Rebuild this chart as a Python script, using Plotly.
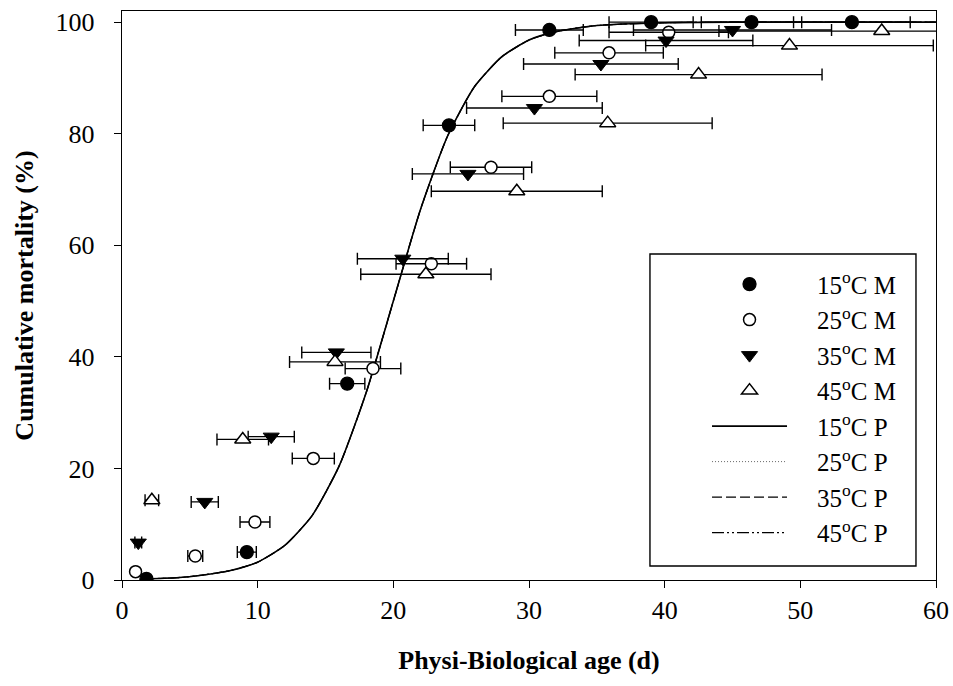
import plotly.graph_objects as go

# ---------------- data ----------------
x15 = [1.8, 9.2, 16.6, 24.1, 31.5, 39.0, 46.4, 53.8]
y15 = [0.2, 5.0, 35.2, 81.5, 98.6, 100.0, 100.0, 100.0]
e15 = [0.2, 0.7, 1.3, 1.9, 2.5, 3.1, 3.7, 4.3]

x25 = [1.0, 5.4, 9.8, 14.1, 18.5, 22.8, 27.2, 31.5, 35.9, 40.3]
y25 = [1.5, 4.3, 10.4, 21.8, 37.9, 56.7, 74.0, 86.7, 94.5, 98.2]
e25 = [0.1, 0.55, 1.1, 1.55, 2.05, 2.6, 3.0, 3.5, 4.0, 4.4]

x35 = [1.2, 6.1, 11.0, 15.8, 20.7, 25.5, 30.4, 35.3, 40.1, 45.0]
y35 = [6.7, 14.0, 25.7, 40.8, 57.6, 72.8, 84.6, 92.5, 96.7, 98.6]
e35 = [0.25, 1.0, 1.7, 2.55, 3.35, 4.1, 5.0, 5.7, 6.4, 7.3]

x45 = [2.2, 8.9, 15.7, 22.4, 29.1, 35.8, 42.5, 49.2, 56.0]
y45 = [14.3, 25.2, 39.1, 54.8, 69.7, 81.9, 90.6, 95.8, 98.4]
e45 = [0.5, 1.9, 3.35, 4.8, 6.3, 7.7, 9.1, 10.6, 12.0]

# predicted curves (all four overlap in the figure)
xp = [1.5, 4, 6, 8, 10, 12, 14, 16, 18, 20, 22, 24, 26, 28, 30, 32, 35, 40, 45, 50, 55, 60]
yp15 = [0.2, 0.4, 0.9, 1.7, 3.2, 6.2, 11.5, 20.4, 33.6, 50.0, 66.4, 79.6, 88.5, 93.8, 96.8, 98.3, 99.4, 99.9, 100, 100, 100, 100]
yp25 = list(yp15)
yp35 = list(yp15)
yp45 = list(yp15)

PAD = "\u00a0" * 4
m_names = [PAD + "15<sup>o</sup>C M", PAD + "25<sup>o</sup>C M", PAD + "35<sup>o</sup>C M", PAD + "45<sup>o</sup>C M"]
p_names = [PAD + "15<sup>o</sup>C P", PAD + "25<sup>o</sup>C P", PAD + "35<sup>o</sup>C P", PAD + "45<sup>o</sup>C P"]

FONT = "Liberation Serif, Times New Roman, serif"

fig = go.Figure()

# predicted lines (drawn first, listed after markers in legend)
line_specs = [
    (yp25, p_names[1], dict(color="#666666", width=1, dash="1px,2px"), 6),
    (yp35, p_names[2], dict(color="black", width=1.2, dash="10px,4px"), 7),
    (yp45, p_names[3], dict(color="black", width=1.2, dash="12px,3px,2px,3px,2px,3px"), 8),
    (yp15, p_names[0], dict(color="black", width=1.6), 5),
]
for yy, nm, ln, rk in line_specs:
    fig.add_trace(go.Scatter(x=xp, y=yy, mode="lines", name=nm, line=dict(shape="spline", smoothing=0.6, **ln),
                             legendrank=rk, hoverinfo="skip"))

mk_specs = [
    (x15, y15, e15, m_names[0], dict(symbol="circle", size=13, color="black", line=dict(color="black", width=1.3)), 1),
    (x25, y25, e25, m_names[1], dict(symbol="circle", size=12, color="white", line=dict(color="black", width=1.5)), 2),
    (x35, y35, e35, m_names[2], dict(symbol="triangle-down", size=14, color="black", line=dict(color="black", width=1)), 3),
    (x45, y45, e45, m_names[3], dict(symbol="triangle-up", size=14, color="white", line=dict(color="black", width=1.5)), 4),
]
for xx, yy, ee, nm, mk, rk in mk_specs:
    fig.add_trace(go.Scatter(x=xx, y=yy, mode="markers", name=nm, marker=mk, legendrank=rk,
                             error_x=dict(type="data", array=ee, symmetric=True, color="black",
                                          thickness=1.4, width=6)))

axis_common = dict(showline=True, linecolor="black", linewidth=1.4, mirror=True, ticks="outside",
                   ticklen=7, tickwidth=1.4, tickcolor="black", showgrid=False, zeroline=False,
                   tickfont=dict(family=FONT, size=26, color="black"))

fig.update_layout(
    width=953, height=686,
    margin=dict(l=122, r=17, t=11, b=106, autoexpand=False),
    paper_bgcolor="white", plot_bgcolor="white",
    font=dict(family=FONT, color="black"),
    xaxis=dict(range=[0, 60], tickvals=[0, 10, 20, 30, 40, 50, 60],
               title=dict(text="Physi-Biological age (d)", standoff=26,
                          font=dict(family=FONT, size=26, color="black", weight="bold")),
               **axis_common),
    yaxis=dict(range=[0, 102], tickvals=[0, 20, 40, 60, 80, 100],
               title=dict(text="Cumulative mortality (%)", standoff=14,
                          font=dict(family=FONT, size=26, color="black", weight="bold")),
               ticklabelstandoff=14,
               **axis_common),
    legend=dict(x=0.7187, y=0.56, xanchor="left", yanchor="top", bgcolor="rgba(0,0,0,0)",
                borderwidth=0, itemwidth=75, font=dict(family=FONT, size=25, color="black")),
    showlegend=True,
    shapes=[dict(type="rect", xref="paper", yref="paper", x0=0.6486, x1=0.9754, y0=0.0246, y1=0.5729,
                 line=dict(color="black", width=1.4), fillcolor="rgba(0,0,0,0)", layer="below")],
)

fig.write_html("out.html")
